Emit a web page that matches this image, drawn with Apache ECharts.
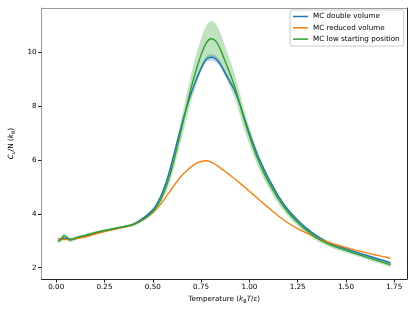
<!DOCTYPE html>
<html><head><meta charset="utf-8">
<script src="https://cdn.jsdelivr.net/npm/echarts@6/dist/echarts.min.js"></script>
<style>html,body{margin:0;padding:0;background:#fff}#c{width:415px;height:312px}</style>
</head><body><div id="c"></div>
<script>
const temps = [0.01,0.025,0.04,0.055,0.07,0.085,0.10,
  0.15,0.20,0.25,0.30,0.35,0.40,0.45,
  0.50,0.525,0.55,0.575,0.60,0.625,0.65,0.675,0.70,0.725,0.75,0.775,0.80,0.825,0.85,0.875,0.90,0.925,0.95,0.975,1.00,1.025,1.05,1.075,1.10,
  1.15,1.20,1.25,1.30,1.35,1.40,1.45,1.50,1.55,1.60,1.65,1.70,1.73];
const doubleVol = [3.05,3.08,3.09,3.08,3.06,3.06,3.08,
  3.17,3.27,3.36,3.44,3.52,3.62,3.84,
  4.15,4.42,4.80,5.30,5.95,6.65,7.32,7.95,8.50,8.98,9.40,9.72,9.81,9.76,9.55,9.22,8.90,8.55,8.08,7.53,7.00,6.50,6.05,5.66,5.30,
  4.66,4.15,3.76,3.43,3.17,2.97,2.82,2.70,2.58,2.47,2.36,2.25,2.18];
const doubleStd = [0.03,0.03,0.03,0.03,0.03,0.03,0.03,
  0.03,0.03,0.03,0.03,0.03,0.03,0.03,
  0.04,0.04,0.04,0.04,0.04,0.04,0.05,0.06,0.07,0.08,0.10,0.11,0.12,0.12,0.11,0.10,0.08,0.07,0.06,0.05,0.05,0.05,0.05,0.05,0.05,
  0.04,0.04,0.04,0.04,0.04,0.04,0.04,0.04,0.04,0.04,0.04,0.04,0.04];
const reducedVol = [3.10,3.05,3.04,3.04,3.04,3.05,3.07,
  3.14,3.24,3.34,3.42,3.50,3.60,3.78,
  4.05,4.22,4.45,4.70,4.95,5.20,5.42,5.60,5.75,5.87,5.94,5.97,5.93,5.83,5.70,5.57,5.43,5.29,5.14,4.99,4.84,4.68,4.52,4.37,4.22,
  3.92,3.66,3.45,3.27,3.11,2.97,2.85,2.75,2.65,2.56,2.48,2.40,2.35];
const lowStart = [2.98,3.05,3.19,3.13,3.03,3.05,3.10,
  3.20,3.30,3.38,3.45,3.52,3.60,3.79,
  4.08,4.32,4.66,5.12,5.72,6.45,7.20,7.98,8.72,9.35,9.90,10.32,10.50,10.42,10.10,9.65,9.20,8.70,8.10,7.45,6.90,6.38,5.92,5.52,5.17,
  4.55,4.06,3.68,3.36,3.10,2.91,2.76,2.64,2.52,2.40,2.29,2.18,2.11];
const lowStartStd = [0.08,0.08,0.08,0.08,0.08,0.08,0.08,
  0.05,0.05,0.05,0.05,0.05,0.06,0.07,
  0.10,0.12,0.15,0.20,0.26,0.32,0.38,0.44,0.50,0.55,0.60,0.64,0.66,0.64,0.60,0.55,0.50,0.45,0.40,0.36,0.32,0.29,0.26,0.23,0.21,
  0.18,0.15,0.13,0.12,0.11,0.10,0.09,0.09,0.08,0.08,0.08,0.08,0.08];
const xTicks = [0,0.25,0.5,0.75,1.0,1.25,1.5,1.75];
const yTicks = [2,4,6,8,10];
const names = ['MC double volume','MC reduced volume','MC low starting position'];
const colors = ['#1f77b4','#ff7f0e','#2ca02c'];

const FF = 'DejaVu Sans';
const pts = (v) => temps.map((t,i)=>[t, v[i]]);

function band(v, s, fill){
  return {
    type:'custom', silent:true, clip:true, data:[[temps[0], v[0]]],
    renderItem:(params, api) => {
      const up = temps.map((t,i)=>api.coord([t, v[i]+s[i]]));
      const lo = temps.map((t,i)=>api.coord([t, v[i]-s[i]])).reverse();
      return {type:'polygon', shape:{points:up.concat(lo), smooth:0.3},
              style:{fill:fill, stroke:null}};
    }
  };
}
function line(v, i){
  return {type:'line', name:names[i], data:pts(v), smooth:0.3, symbol:'none', showSymbol:false,
    lineStyle:{color:colors[i], width:1.4}, itemStyle:{color:colors[i]}};
}
const rich = {
  n:{fontFamily:FF, fontSize:7.2, color:'#000', lineHeight:10},
  i:{fontFamily:FF, fontSize:7.2, color:'#000', fontStyle:'italic', lineHeight:10},
  s:{fontFamily:FF, fontSize:5, color:'#000', lineHeight:10, verticalAlign:'bottom', padding:[3,0,0,0]},
  si:{fontFamily:FF, fontSize:5, color:'#000', fontStyle:'italic', lineHeight:10, verticalAlign:'bottom', padding:[3,0,0,0]}
};
const xMin=-0.076, xMax=1.816, yMin=1.58, yMax=11.64;
const chart = echarts.init(document.getElementById('c'), null, {renderer:'canvas'});
chart.setOption({
  animation:false,
  backgroundColor:'#fff',
  grid:{left:34, top:8, width:373, height:271, containLabel:false},
  legend:{
    data:names.map(n=>({name:n, icon:'rect'})), orient:'vertical', left:290, top:10,
    padding:[2.5,4,3,3], itemGap:3.3, itemWidth:15, itemHeight:1.5,
    backgroundColor:'#fff', borderColor:'#cccccc', borderWidth:1, borderRadius:2,
    textStyle:{fontFamily:FF, fontSize:7.2, color:'#000', lineHeight:8}
  },
  xAxis:[{
    type:'value', min:xMin, max:xMax, position:'bottom',
    axisLine:{show:true, onZero:false, lineStyle:{color:'#222', width:1}},
    axisTick:{show:true, customValues:xTicks, length:3.5, lineStyle:{color:'#222'}},
    axisLabel:{customValues:xTicks, formatter:(v)=>v.toFixed(2), fontFamily:FF, fontSize:7.2, color:'#000', margin:5},
    splitLine:{show:false},
    name:'{n|Temperature (}{i|k}{s|B}{i|T}{n|/}{i|ε}{n|)}',
    nameLocation:'middle', nameGap:13,
    nameTextStyle:{rich:rich, fontFamily:FF, fontSize:7.2}
  },{
    type:'value', min:xMin, max:xMax, position:'top',
    axisLine:{show:true, onZero:false, lineStyle:{color:'#999', width:1}},
    axisTick:{show:false}, axisLabel:{show:false}, splitLine:{show:false}
  }],
  yAxis:[{
    type:'value', min:yMin, max:yMax, position:'left',
    axisLine:{show:true, onZero:false, lineStyle:{color:'#999', width:1}},
    axisTick:{show:true, customValues:yTicks, length:3.5, lineStyle:{color:'#222'}},
    axisLabel:{customValues:yTicks, fontFamily:FF, fontSize:7.2, color:'#000', margin:5},
    splitLine:{show:false},
    name:'{i|C}{si|v}{n|/N (}{i|k}{s|B}{n|)}',
    nameLocation:'middle', nameGap:17, nameRotate:90,
    nameTextStyle:{rich:rich, fontFamily:FF, fontSize:7.2}
  },{
    type:'value', min:yMin, max:yMax, position:'right',
    axisLine:{show:true, onZero:false, lineStyle:{color:'#222', width:1}},
    axisTick:{show:false}, axisLabel:{show:false}, splitLine:{show:false}
  }],
  series:[
    band(doubleVol, doubleStd, 'rgba(31,119,180,0.3)'),
    line(doubleVol, 0),
    line(reducedVol, 1),
    band(lowStart, lowStartStd, 'rgba(44,160,44,0.3)'),
    line(lowStart, 2)
  ]
});
</script></body></html>
